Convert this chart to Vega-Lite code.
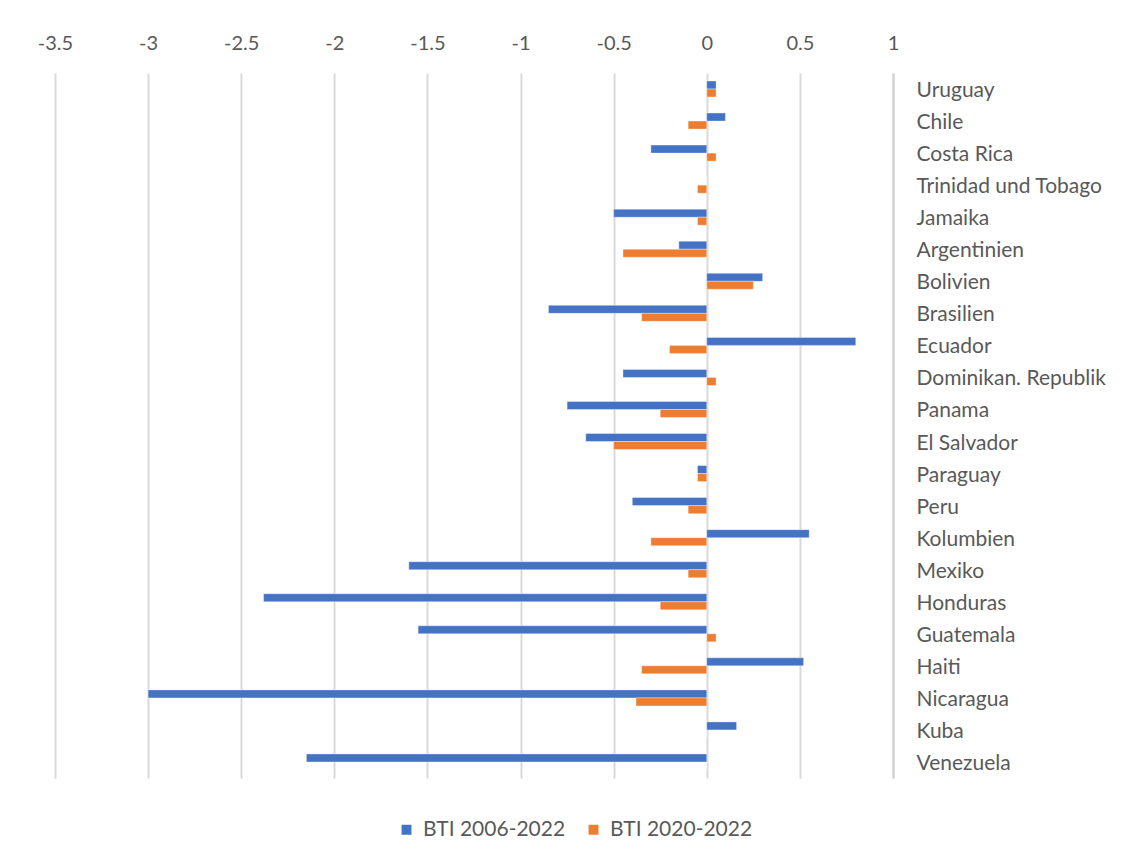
{
  "$schema": "https://vega.github.io/schema/vega-lite/v6.json",
  "autosize": {"type": "none"},
  "width": 838,
  "height": 705,
  "padding": {"left": 55, "top": 73, "right": 230, "bottom": 83},
  "background": "white",
  "data": {
    "values": [
      {"country": "Uruguay", "series": "BTI 2006-2022", "value": 0.05},
      {"country": "Uruguay", "series": "BTI 2020-2022", "value": 0.05},
      {"country": "Chile", "series": "BTI 2006-2022", "value": 0.1},
      {"country": "Chile", "series": "BTI 2020-2022", "value": -0.1},
      {"country": "Costa Rica", "series": "BTI 2006-2022", "value": -0.3},
      {"country": "Costa Rica", "series": "BTI 2020-2022", "value": 0.05},
      {"country": "Trinidad und Tobago", "series": "BTI 2006-2022", "value": 0},
      {"country": "Trinidad und Tobago", "series": "BTI 2020-2022", "value": -0.05},
      {"country": "Jamaika", "series": "BTI 2006-2022", "value": -0.5},
      {"country": "Jamaika", "series": "BTI 2020-2022", "value": -0.05},
      {"country": "Argentinien", "series": "BTI 2006-2022", "value": -0.15},
      {"country": "Argentinien", "series": "BTI 2020-2022", "value": -0.45},
      {"country": "Bolivien", "series": "BTI 2006-2022", "value": 0.3},
      {"country": "Bolivien", "series": "BTI 2020-2022", "value": 0.25},
      {"country": "Brasilien", "series": "BTI 2006-2022", "value": -0.85},
      {"country": "Brasilien", "series": "BTI 2020-2022", "value": -0.35},
      {"country": "Ecuador", "series": "BTI 2006-2022", "value": 0.8},
      {"country": "Ecuador", "series": "BTI 2020-2022", "value": -0.2},
      {"country": "Dominikan. Republik", "series": "BTI 2006-2022", "value": -0.45},
      {"country": "Dominikan. Republik", "series": "BTI 2020-2022", "value": 0.05},
      {"country": "Panama", "series": "BTI 2006-2022", "value": -0.75},
      {"country": "Panama", "series": "BTI 2020-2022", "value": -0.25},
      {"country": "El Salvador", "series": "BTI 2006-2022", "value": -0.65},
      {"country": "El Salvador", "series": "BTI 2020-2022", "value": -0.5},
      {"country": "Paraguay", "series": "BTI 2006-2022", "value": -0.05},
      {"country": "Paraguay", "series": "BTI 2020-2022", "value": -0.05},
      {"country": "Peru", "series": "BTI 2006-2022", "value": -0.4},
      {"country": "Peru", "series": "BTI 2020-2022", "value": -0.1},
      {"country": "Kolumbien", "series": "BTI 2006-2022", "value": 0.55},
      {"country": "Kolumbien", "series": "BTI 2020-2022", "value": -0.3},
      {"country": "Mexiko", "series": "BTI 2006-2022", "value": -1.6},
      {"country": "Mexiko", "series": "BTI 2020-2022", "value": -0.1},
      {"country": "Honduras", "series": "BTI 2006-2022", "value": -2.38},
      {"country": "Honduras", "series": "BTI 2020-2022", "value": -0.25},
      {"country": "Guatemala", "series": "BTI 2006-2022", "value": -1.55},
      {"country": "Guatemala", "series": "BTI 2020-2022", "value": 0.05},
      {"country": "Haiti", "series": "BTI 2006-2022", "value": 0.52},
      {"country": "Haiti", "series": "BTI 2020-2022", "value": -0.35},
      {"country": "Nicaragua", "series": "BTI 2006-2022", "value": -3.0},
      {"country": "Nicaragua", "series": "BTI 2020-2022", "value": -0.38},
      {"country": "Kuba", "series": "BTI 2006-2022", "value": 0.16},
      {"country": "Kuba", "series": "BTI 2020-2022", "value": 0},
      {"country": "Venezuela", "series": "BTI 2006-2022", "value": -2.15},
      {"country": "Venezuela", "series": "BTI 2020-2022", "value": 0}
    ]
  },
  "mark": {"type": "bar", "stroke": "white", "strokeWidth": 0.6, "strokeOpacity": 0.6},
  "encoding": {
    "y": {
      "field": "country",
      "type": "nominal",
      "sort": ["Uruguay", "Chile", "Costa Rica", "Trinidad und Tobago", "Jamaika", "Argentinien", "Bolivien", "Brasilien", "Ecuador", "Dominikan. Republik", "Panama", "El Salvador", "Paraguay", "Peru", "Kolumbien", "Mexiko", "Honduras", "Guatemala", "Haiti", "Nicaragua", "Kuba", "Venezuela"],
      "scale": {"paddingInner": 0.5, "paddingOuter": 0.25},
      "axis": {
        "orient": "right",
        "title": null,
        "ticks": false,
        "domain": true,
        "domainColor": "#d0d0d0",
        "domainWidth": 2,
        "labelAlign": "left",
        "labelPadding": 23,
        "labelOffset": 2,
        "labelLimit": 0,
        "labelFont": "Lato",
        "labelFontSize": 21,
        "labelColor": "#595959",
        "grid": false
      }
    },
    "yOffset": {"field": "series", "type": "nominal"},
    "x": {
      "field": "value",
      "type": "quantitative",
      "scale": {"domain": [-3.5, 1], "nice": false, "zero": false},
      "axis": {
        "orient": "top",
        "title": null,
        "values": [-3.5, -3, -2.5, -2, -1.5, -1, -0.5, 0, 0.5, 1],
        "labelExpr": "datum.value + ''",
        "ticks": false,
        "domain": false,
        "grid": true,
        "gridColor": "#d9d9d9",
        "gridWidth": 2,
        "labelPadding": 20,
        "labelFont": "Lato",
        "labelFontSize": 20,
        "labelColor": "#595959",
        "labelFlush": false
      }
    },
    "color": {
      "field": "series",
      "type": "nominal",
      "scale": {"domain": ["BTI 2006-2022", "BTI 2020-2022"], "range": ["#4472C4", "#ED7D31"]},
      "legend": {
        "orient": "none",
        "legendX": 341,
        "legendY": 746,
        "direction": "horizontal",
        "title": null,
        "symbolType": "square",
        "symbolSize": 130,
        "labelFont": "Lato",
        "labelFontSize": 21,
        "labelColor": "#595959",
        "columnPadding": 17,
        "labelOffset": 6
      }
    }
  },
  "config": {"view": {"stroke": null}}
}
